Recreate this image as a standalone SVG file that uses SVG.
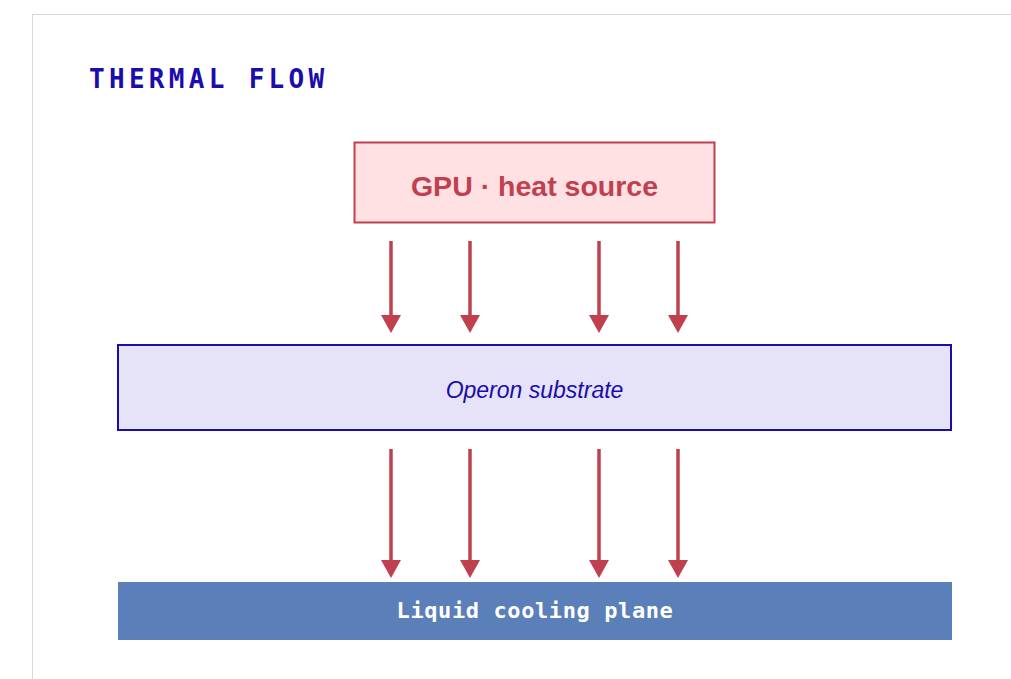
<svg xmlns="http://www.w3.org/2000/svg" width="1011" height="679" viewBox="0 0 1011 679">
  <style>
    .title { font-family: "DejaVu Sans Mono", monospace; font-weight: bold; font-size: 26px; letter-spacing: 4.3px; fill: #1a0dab; }
    .gpu-text { font-family: "Liberation Sans", Arial, sans-serif; font-weight: bold; font-size: 28.5px; fill: #c0404f; }
    .sub-text { font-family: "Liberation Sans", Arial, sans-serif; font-style: italic; font-size: 23px; fill: #1a0dab; }
    .cool-text { font-family: "DejaVu Sans Mono", monospace; font-weight: bold; font-size: 22px; letter-spacing: 0.6px; fill: #ffffff; }
    .flow { stroke: #c0404f; stroke-width: 3.5; fill: none; marker-end: url(#head); }
  </style>
  <defs>
    <marker id="head" markerUnits="userSpaceOnUse" markerWidth="18" markerHeight="20" refX="0" refY="10" orient="auto">
      <path d="M0,0 L18,10 L0,20 Z" fill="#c0404f"/>
    </marker>
  </defs>
  <rect x="0" y="0" width="1011" height="679" fill="#ffffff"/>
  <rect x="32.5" y="14.5" width="1000" height="700" fill="#ffffff" stroke="#dcd8d2" stroke-width="1"/>
  <text class="title" x="89" y="88">THERMAL FLOW</text>

  <g id="gpu">
    <rect x="354.5" y="142.5" width="360" height="80" fill="#ffe1e4" stroke="#c0404f" stroke-width="2"/>
    <text class="gpu-text" x="534.5" y="196" text-anchor="middle">GPU · heat source</text>
  </g>

  <g id="substrate">
    <rect x="118" y="345" width="833" height="85" fill="#e6e2f8" stroke="#1a0dab" stroke-width="2"/>
    <text class="sub-text" x="534.5" y="398" text-anchor="middle">Operon substrate</text>
  </g>

  <g id="cooling">
    <rect x="118" y="582" width="834" height="58" fill="#5b7fb8"/>
    <text class="cool-text" x="535" y="618" text-anchor="middle">Liquid cooling plane</text>
  </g>

  <g id="connectors">
    <line class="flow" x1="391" y1="241" x2="391" y2="315"/>
    <line class="flow" x1="470" y1="241" x2="470" y2="315"/>
    <line class="flow" x1="599" y1="241" x2="599" y2="315"/>
    <line class="flow" x1="678" y1="241" x2="678" y2="315"/>
    <line class="flow" x1="391" y1="449" x2="391" y2="560"/>
    <line class="flow" x1="470" y1="449" x2="470" y2="560"/>
    <line class="flow" x1="599" y1="449" x2="599" y2="560"/>
    <line class="flow" x1="678" y1="449" x2="678" y2="560"/>
  </g>
</svg>
